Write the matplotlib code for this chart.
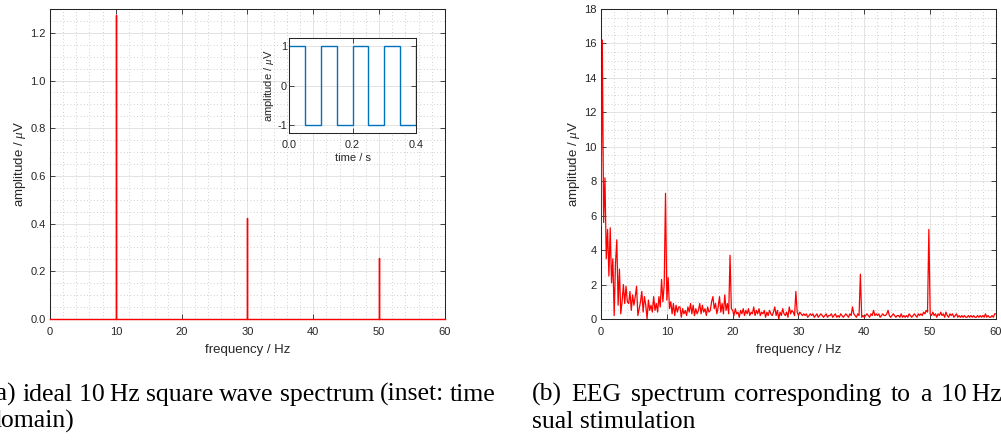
import matplotlib
matplotlib.use("Agg")
import matplotlib.pyplot as plt
from matplotlib.ticker import MultipleLocator, FormatStrFormatter
import numpy as np

# ideal 10 Hz square wave: spectral peaks
peak_freqs = [10, 30, 50]
peak_amps = [1.273, 0.424, 0.255]

# inset: square wave in time domain
wave_edges = [0.0, 0.05, 0.10, 0.15, 0.20, 0.25, 0.30, 0.35, 0.40, 0.45]
wave_levels = [1, -1, 1, -1, 1, -1, 1, -1, 1]

# EEG spectrum at 0.2 Hz resolution
eeg_resolution = 0.2
eeg_amps = [
    5.4, 16.2, 5.6, 8.2, 3.5, 5.2, 2.5, 5.3, 2.1, 3.5,
    0.2, 3.2, 4.6, 0.8, 2.9, 0.3, 1.0, 2.0, 0.9, 1.9,
    1.0, 0.9, 1.6, 0.5, 1.4, 0.8, 1.3, 1.9, 0.2, 0.6,
    1.0, 1.6, 0.4, 1.3, 0.8, 0.0, 1.1, 0.5, 0.8, 0.4,
    1.3, 0.5, 0.9, 0.4, 1.3, 0.7, 2.3, 1.0, 2.0, 7.3,
    1.1, 2.4, 0.6, 1.0, 0.3, 0.9, 0.2, 0.8, 0.4, 0.7,
    0.7, 0.1, 0.6, 0.3, 0.5, 0.2, 0.7, 0.4, 0.9, 0.3,
    0.8, 0.2, 0.6, 0.3, 0.5, 0.9, 0.3, 0.8, 0.4, 0.6,
    0.2, 0.7, 0.4, 0.5, 1.0, 1.3, 0.6, 0.9, 0.3, 0.7,
    1.3, 0.4, 0.9, 0.3, 1.4, 0.5, 0.9, 0.3, 3.7, 0.6,
    0.5, 0.2, 0.6, 0.3, 0.4, 0.1, 0.5, 0.3, 0.6, 0.2,
    0.5, 0.3, 0.6, 0.2, 0.4, 0.3, 0.7, 0.2, 0.5, 0.3,
    0.6, 0.2, 0.4, 0.3, 0.5, 0.1, 0.4, 0.2, 0.5, 0.3,
    0.2, 0.4, 0.7, 0.2, 0.5, 0.0, 0.4, 0.2, 0.6, 0.3,
    0.2, 0.4, 0.1, 0.7, 0.3, 0.5, 0.4, 0.2, 1.6, 0.4,
    0.2, 0.4, 0.3, 0.2, 0.3, 0.2, 0.3, 0.1, 0.2, 0.3,
    0.2, 0.3, 0.1, 0.2, 0.3, 0.1, 0.2, 0.3, 0.2, 0.1,
    0.2, 0.3, 0.1, 0.2, 0.2, 0.3, 0.1, 0.2, 0.3, 0.1,
    0.2, 0.1, 0.3, 0.2, 0.1, 0.2, 0.3, 0.2, 0.1, 0.3,
    0.2, 0.7, 0.3, 0.2, 0.1, 0.3, 0.2, 2.6, 0.1, 0.2,
    0.1, 0.2, 0.3, 0.2, 0.1, 0.3, 0.2, 0.5, 0.2, 0.3,
    0.2, 0.3, 0.1, 0.2, 0.3, 0.2, 0.2, 0.3, 0.5, 0.2,
    0.1, 0.2, 0.3, 0.2, 0.1, 0.2, 0.2, 0.1, 0.3, 0.1,
    0.2, 0.1, 0.2, 0.1, 0.3, 0.2, 0.1, 0.2, 0.3, 0.2,
    0.1, 0.3, 0.2, 0.3, 0.2, 0.4, 0.3, 0.5, 0.4, 5.2,
    0.3, 0.2, 0.4, 0.2, 0.3, 0.1, 0.3, 0.2, 0.4, 0.2,
    0.3, 0.1, 0.4, 0.2, 0.1, 0.3, 0.2, 0.3, 0.1, 0.2,
    0.3, 0.1, 0.2, 0.1, 0.2, 0.1, 0.2, 0.1, 0.1, 0.2,
    0.1, 0.2, 0.1, 0.2, 0.1, 0.1, 0.2, 0.1, 0.2, 0.1,
    0.2, 0.1, 0.3, 0.1, 0.2, 0.1, 0.1, 0.2, 0.1, 0.3,
    0.3,
]

inset_yticklabels = ["-1", "0", "1"]
caption_a = ["(a) ideal 10\u2009Hz square wave spectrum (inset: time", "domain)"]
caption_b = ["(b) EEG spectrum corresponding to a 10\u2009Hz vi-", "sual stimulation"]

DARK = "#262626"
RED = "#ff0000"
BLUE = "#0072bd"
W_PX, H_PX = 1001, 440

plt.rcParams["font.family"] = ["Liberation Sans", "DejaVu Sans"]
plt.rcParams["mathtext.fontset"] = "custom"
plt.rcParams["mathtext.it"] = "Liberation Serif:italic"
plt.rcParams["font.size"] = 9.5


def matlab_style(ax, minor_x=None, minor_y=None, size=8, xpad=6, ypad=3):
    for s in ax.spines.values():
        s.set_color(DARK)
        s.set_linewidth(0.75)
    ax.tick_params(which="major", direction="in", top=True, right=True,
                   length=3.5, width=0.6, color=DARK, labelcolor=DARK,
                   labelsize=size, pad=ypad)
    ax.tick_params(axis="x", which="major", pad=xpad)
    ax.tick_params(which="minor", length=0)
    ax.grid(True, which="major", color="#dedede", lw=0.6, ls="-")
    if minor_x is not None:
        ax.xaxis.set_minor_locator(MultipleLocator(minor_x))
    if minor_y is not None:
        ax.yaxis.set_minor_locator(MultipleLocator(minor_y))
    if minor_x is not None or minor_y is not None:
        ax.grid(True, which="minor", color="#c0c0c0", lw=0.6, ls=(0, (1, 3)))
    ax.set_axisbelow(True)


fig = plt.figure(figsize=(10.01, 4.40), dpi=100)

# (a) ideal spectrum
ax1 = fig.add_axes([0.04995, 0.275, 0.3946, 0.7045])
fx, fy = [0.0], [0.0]
for f, a in zip(peak_freqs, peak_amps):
    fx += [f, f, f]
    fy += [0.0, a, 0.0]
fx.append(60.0)
fy.append(0.0)
ax1.plot(fx, fy, color=RED, lw=1.0, zorder=3, clip_on=False)
ax1.set_xlim(0, 60)
ax1.set_ylim(0, 1.3)
ax1.xaxis.set_major_locator(MultipleLocator(10))
ax1.yaxis.set_major_locator(MultipleLocator(0.2))
ax1.yaxis.set_major_formatter(FormatStrFormatter("%.1f"))
matlab_style(ax1, minor_x=2, minor_y=0.05)
ax1.set_xlabel("frequency / Hz", color=DARK, labelpad=5)
ax1.set_ylabel(r"amplitude / $\mu$V", color=DARK, labelpad=2)

# inset
axi = fig.add_axes([0.2887, 0.6977, 0.1269, 0.2159])
axi.stairs(wave_levels, wave_edges, baseline=None, color=BLUE, lw=1.0)
axi.set_xlim(0, 0.4)
axi.set_ylim(-1.2, 1.2)
axi.set_xticks([0.0, 0.2, 0.4])
axi.set_yticks([-1, 0, 1])
axi.set_yticklabels(inset_yticklabels)
axi.xaxis.set_major_formatter(FormatStrFormatter("%.1f"))
matlab_style(axi, size=7.8, xpad=5, ypad=1.5)
axi.set_xlabel("time / s", color=DARK, labelpad=2, fontsize=8)
axi.set_ylabel(r"amplitude / $\mu$V", color=DARK, labelpad=0.5, fontsize=8)

# (b) EEG spectrum
ax2 = fig.add_axes([0.6004, 0.275, 0.3946, 0.7045])
eeg_freqs = np.arange(len(eeg_amps)) * eeg_resolution
ax2.plot(eeg_freqs, eeg_amps, color=RED, lw=0.9, zorder=3)
ax2.set_xlim(0, 60)
ax2.set_ylim(0, 18)
ax2.xaxis.set_major_locator(MultipleLocator(10))
ax2.yaxis.set_major_locator(MultipleLocator(2))
matlab_style(ax2, minor_x=2, minor_y=0.5)
ax2.set_xlabel("frequency / Hz", color=DARK, labelpad=5)
ax2.set_ylabel(r"amplitude / $\mu$V", color=DARK, labelpad=2)

# captions (the page is cropped, so parts fall off the canvas);
# first lines are justified to the subfigure width like LaTeX does
cap_kw = dict(family=["Liberation Serif", "DejaVu Serif"], fontsize=18.5,
              color="black", va="baseline", ha="left")
renderer = fig.canvas.get_renderer()


def caption_line(x_px, y_frac, text, width_px=None):
    if width_px is None:
        fig.text(x_px / W_PX, y_frac, text, **cap_kw)
        return
    words = text.split(" ")
    widths = []
    for w in words:
        t = fig.text(0, 0, w, **cap_kw)
        widths.append(t.get_window_extent(renderer).width)
        t.remove()
    gap = (width_px - sum(widths)) / (len(words) - 1)
    x = x_px
    for w, wd in zip(words, widths):
        fig.text(x / W_PX, y_frac, w, **cap_kw)
        x += wd + gap


COL_W = 508
caption_line(-12, 0.0886, caption_a[0], COL_W)
caption_line(-12, 0.0273, caption_a[1])
caption_line(532, 0.0886, caption_b[0], COL_W)
caption_line(532, 0.0273, caption_b[1])

fig.savefig("out.png", dpi=100)
